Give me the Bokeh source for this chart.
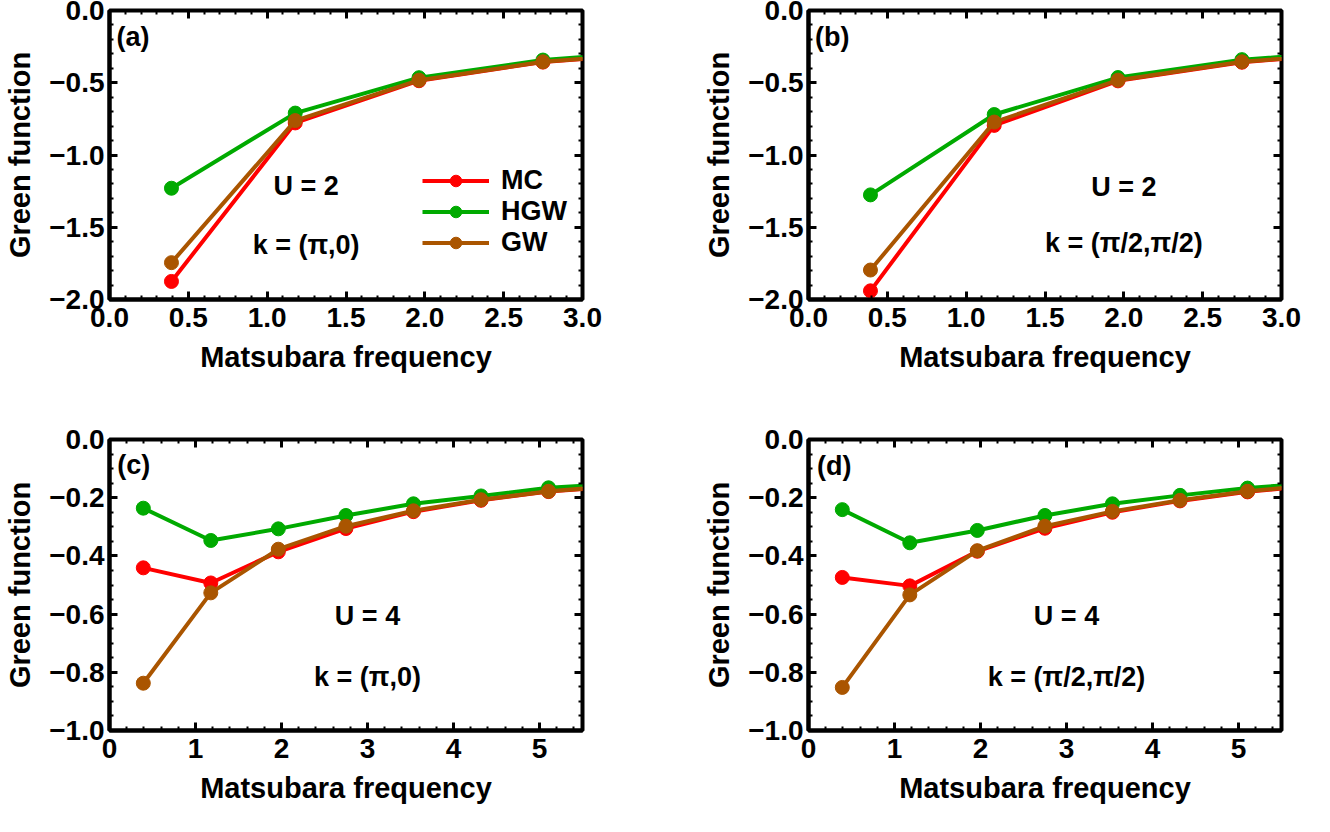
import numpy as np
from bokeh.plotting import figure
from bokeh.layouts import column, row
from bokeh.models import (FixedTicker, CustomJSTickFormatter, LinearAxis, Range1d,
                          Label, Legend, LegendItem)
from bokeh.embed import file_html
from bokeh.resources import INLINE

# ---------------- data ----------------
freq = [0.393, 1.178, 1.963, 2.749, 3.534, 4.320, 5.105, 5.890]

# panel (a): U = 2, k = (pi, 0)
mc_a = [-1.875, -0.778, -0.486, -0.357, -0.290]
hgw_a = [-1.230, -0.710, -0.465, -0.343, -0.280]
gw_a = [-1.745, -0.762, -0.482, -0.355, -0.288]

# panel (b): U = 2, k = (pi/2, pi/2)
mc_b = [-1.940, -0.795, -0.487, -0.358, -0.290]
hgw_b = [-1.276, -0.720, -0.464, -0.340, -0.280]
gw_b = [-1.796, -0.772, -0.482, -0.355, -0.288]

# panel (c): U = 4, k = (pi, 0)
mc_c = [-0.441, -0.493, -0.386, -0.306, -0.248, -0.209, -0.179, -0.161]
hgw_c = [-0.236, -0.347, -0.307, -0.261, -0.221, -0.194, -0.166, -0.153]
gw_c = [-0.8375, -0.527, -0.377, -0.298, -0.245, -0.207, -0.178, -0.160]

# panel (d): U = 4, k = (pi/2, pi/2)
mc_d = [-0.474, -0.503, -0.384, -0.305, -0.250, -0.211, -0.180, -0.158]
hgw_d = [-0.241, -0.355, -0.3125, -0.261, -0.221, -0.192, -0.167, -0.149]
gw_d = [-0.852, -0.534, -0.382, -0.298, -0.247, -0.209, -0.178, -0.156]

series_names = ["MC", "HGW", "GW"]
series_colors = ["#FF0000", "#00AA00", "#AA5500"]

FONT = "Liberation Sans"
TICK_SIZE = "28px"
LEGEND_SIZE = "27px"


def minor_list(lo, hi, step, majors):
    vals = np.round(np.arange(lo, hi + step / 2, step), 4)
    return [float(v) for v in vals if not any(abs(v - m) < 1e-6 for m in majors)]


def style_axis(ax, majors, minors, dec, labels=True, axis_label=None,
               standoff=6, label_standoff=12):
    ax.ticker = FixedTicker(ticks=majors, minor_ticks=minors)
    ax.formatter = CustomJSTickFormatter(
        code="return tick.toFixed(%d).replace('-', '\u2212');" % dec)
    ax.axis_line_color = "black"
    ax.axis_line_width = 4
    ax.major_tick_in = 8
    ax.major_tick_out = 0
    ax.minor_tick_in = 4
    ax.minor_tick_out = 0
    ax.major_tick_line_width = 3
    ax.minor_tick_line_width = 2
    ax.major_tick_line_color = "black"
    ax.minor_tick_line_color = "black"
    if labels:
        ax.major_label_text_font = FONT
        ax.major_label_text_font_style = "bold"
        ax.major_label_text_font_size = TICK_SIZE
        ax.major_label_text_color = "black"
        ax.major_label_standoff = standoff
    else:
        ax.major_label_text_font_size = "1px"
        ax.major_label_text_color = None
        ax.major_label_standoff = 0
        ax.axis_line_color = None
    if axis_label:
        ax.axis_label = axis_label
        ax.axis_label_text_font = FONT
        ax.axis_label_text_font_style = "bold"
        ax.axis_label_text_font_size = "29px"
        ax.axis_label_text_color = "black"
        ax.axis_label_standoff = label_standoff


def make_panel(ys, xr, yr, xmaj, xstep, ymaj, ystep, xdec, ydec,
               borders, frame_h, tag, tag_pos, texts, legend_loc=None):
    left, right, top, bottom = borders
    p = figure(frame_width=473, frame_height=frame_h,
               x_range=Range1d(*xr), y_range=Range1d(*yr),
               output_backend="svg", toolbar_location=None,
               min_border_left=left, min_border_right=right,
               min_border_top=top, min_border_bottom=bottom,
               x_axis_location=None, y_axis_location=None)
    p.xgrid.visible = False
    p.ygrid.visible = False
    p.outline_line_color = "black"
    p.outline_line_width = 4
    p.outline_line_alpha = 1.0
    p.background_fill_color = "white"
    p.border_fill_color = "white"

    xmin_t = minor_list(xr[0], xr[1], xstep, xmaj)
    ymin_t = minor_list(yr[0], yr[1], ystep, ymaj)

    bx = LinearAxis()
    style_axis(bx, xmaj, xmin_t, xdec, True, "Matsubara frequency",
               standoff=8, label_standoff=11)
    p.add_layout(bx, "below")
    ly = LinearAxis()
    style_axis(ly, ymaj, ymin_t, ydec, True, "Green function",
               standoff=5, label_standoff=10)
    p.add_layout(ly, "left")
    tx = LinearAxis()
    style_axis(tx, xmaj, xmin_t, xdec, False)
    p.add_layout(tx, "above")
    ry = LinearAxis()
    style_axis(ry, ymaj, ymin_t, ydec, False)
    p.add_layout(ry, "right")

    items = []
    for yv, name, col in zip(ys, series_names, series_colors):
        xs = freq[:len(yv)]
        lr = p.line(xs, yv, line_color=col, line_width=4)
        sr = p.scatter(xs, yv, size=14, fill_color=col, line_color=col, marker="circle")
        items.append(LegendItem(label=name, renderers=[lr, sr]))

    p.add_layout(Label(x=tag_pos[0], y=tag_pos[1], text=tag, text_align="left",
                       text_baseline="middle", text_font=FONT, text_font_style="bold",
                       text_font_size="27px", text_color="black"))
    for (tx_, ty_, tt) in texts:
        p.add_layout(Label(x=tx_, y=ty_, text=tt, text_align="center",
                           text_baseline="middle", text_font=FONT,
                           text_font_style="bold", text_font_size="27px",
                           text_color="black"))
    if legend_loc is not None:
        lg = Legend(items=items, location=legend_loc, background_fill_alpha=0,
                    border_line_color=None, padding=0, margin=0, spacing=0,
                    glyph_width=67, glyph_height=29, label_height=29,
                    label_standoff=12, label_text_font=FONT,
                    label_text_font_style="bold", label_text_font_size=LEGEND_SIZE,
                    label_text_color="black")
        p.add_layout(lg)
    return p


x2_maj = [0.0, 0.5, 1.0, 1.5, 2.0, 2.5, 3.0]
y2_maj = [-2.0, -1.5, -1.0, -0.5, 0.0]
x4_maj = [0, 1, 2, 3, 4, 5]
y4_maj = [-1.0, -0.8, -0.6, -0.4, -0.2, 0.0]

pa = make_panel([mc_a, hgw_a, gw_a], (0, 3), (-2, 0), x2_maj, 0.1, y2_maj, 0.1, 1, 1,
                (109, 117, 10, 130), 289, "(a)", (0.044, -0.18),
                [(1.247, -1.216, "U = 2"), (1.247, -1.622, "k = (\u03c0,0)")],
                legend_loc=(313, 41))
pb = make_panel([mc_b, hgw_b, gw_b], (0, 3), (-2, 0), x2_maj, 0.1, y2_maj, 0.1, 1, 1,
                (109, 30, 10, 130), 289, "(b)", (0.042, -0.18),
                [(2.0, -1.223, "U = 2"), (2.0, -1.608, "k = (\u03c0/2,\u03c0/2)")])
pc = make_panel([mc_c, hgw_c, gw_c], (0, 5.5), (-1, 0), x4_maj, 0.2, y4_maj, 0.05, 0, 1,
                (109, 117, 10, 80), 291, "(c)", (0.09, -0.088),
                [(3.0, -0.605, "U = 4"), (3.0, -0.816, "k = (\u03c0,0)")])
pd_ = make_panel([mc_d, hgw_d, gw_d], (0, 5.5), (-1, 0), x4_maj, 0.2, y4_maj, 0.05, 0, 1,
                 (109, 30, 10, 80), 291, "(d)", (0.1, -0.09),
                 [(3.0, -0.606, "U = 4"), (3.0, -0.817, "k = (\u03c0/2,\u03c0/2)")])

layout = column(row(pa, pb), row(pc, pd_))

with open("out.html", "w", encoding="utf-8") as f:
    f.write(file_html(layout, INLINE))
